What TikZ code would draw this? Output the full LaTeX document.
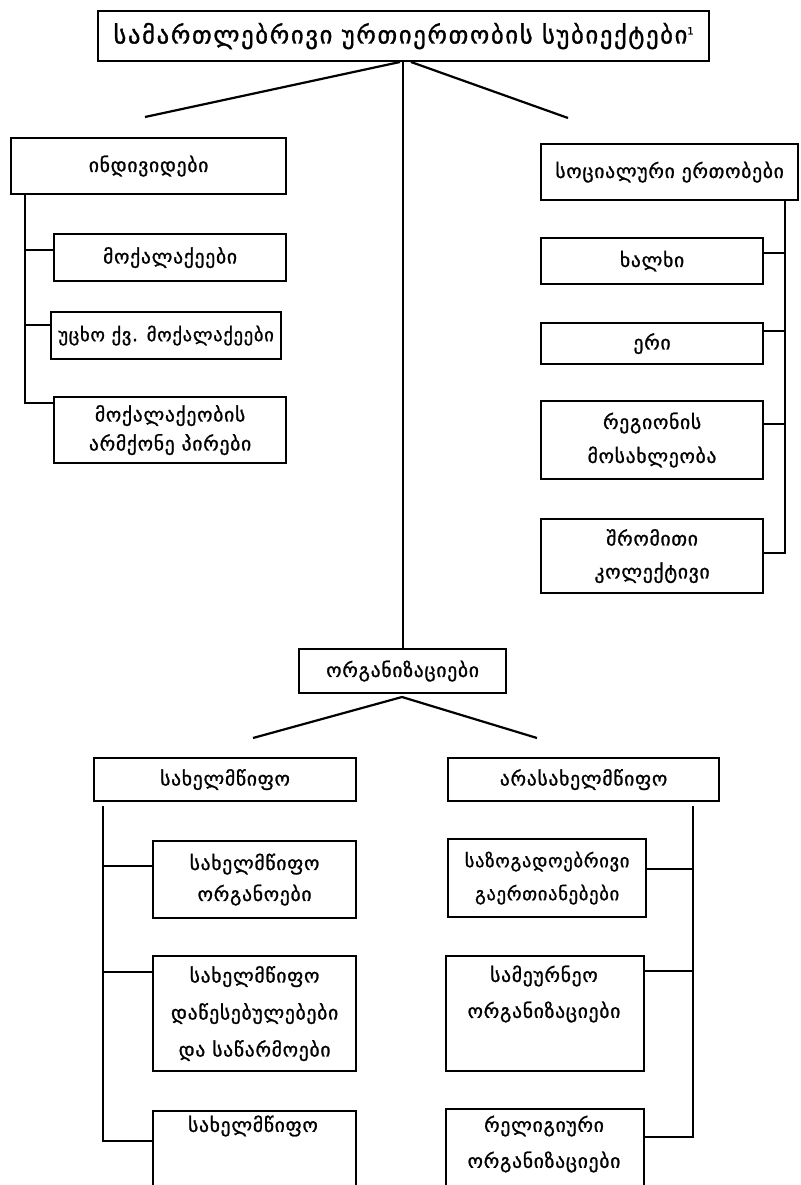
\documentclass[tikz,border=0pt]{standalone}
\usepackage{fontspec}
\newfontfamily\geo[LetterSpace=4,FakeBold=1.2]{DejaVu Sans}
\newfontfamily\geotitle[LetterSpace=7,FakeBold=1.3]{DejaVu Sans}
\begin{document}
\begin{tikzpicture}[x=1pt,y=-1pt,line width=2.2pt,
  box/.style={draw,rectangle,anchor=north west,inner sep=0pt,align=center,
    font=\geo\fontsize{19.5}{32}\selectfont},
  txt/.style={inner sep=0pt,align=center,font=\geo\fontsize{19.5}{36}\selectfont},
  link/.style={line width=2.2pt}]
\useasboundingbox (0,0) rectangle (800,1185);

% top level
\node[box,minimum width=611pt,minimum height=50pt,font=\geotitle\fontsize{24.5}{26}\selectfont] (root) at (97,10)
  {სამართლებრივი ურთიერთობის სუბიექტები\raisebox{9pt}{\fontsize{10}{10}\selectfont 1}};

% individuals
\node[box,minimum width=275pt,minimum height=56pt] (indiv) at (10,137) {ინდივიდები};
\node[box,minimum width=232pt,minimum height=47pt] (cit) at (53,233) {მოქალაქეები};
\node[box,minimum width=230pt,minimum height=47pt,font=\geo\fontsize{18.5}{32}\selectfont] (foreign) at (50,311) {უცხო ქვ. მოქალაქეები};
\node[box,minimum width=232pt,minimum height=66pt,font=\geo\fontsize{19.5}{29}\selectfont] (stateless) at (53,396) {მოქალაქეობის\\არმქონე პირები};

% social communities
\node[box,minimum width=257pt,minimum height=56pt] (social) at (540,143) {სოციალური ერთობები};
\node[box,minimum width=222pt,minimum height=46pt] (people) at (540,237) {ხალხი};
\node[box,minimum width=222pt,minimum height=41pt] (nation) at (540,322) {ერი};
\node[box,minimum width=222pt,minimum height=78pt,font=\geo\fontsize{19.5}{34}\selectfont] (region) at (540,400) {რეგიონის\\მოსახლეობა};
\node[box,minimum width=222pt,minimum height=74pt,font=\geo\fontsize{19.5}{33}\selectfont] (labour) at (540,518) {შრომითი\\კოლექტივი};

% organisations
\node[box,minimum width=207pt,minimum height=44pt] (org) at (298,648) {ორგანიზაციები};
\node[box,minimum width=262pt,minimum height=43pt] (state) at (93,757) {სახელმწიფო};
\node[box,minimum width=271pt,minimum height=43pt] (nonstate) at (447,757) {არასახელმწიფო};

\node[box,minimum width=203pt,minimum height=77pt,font=\geo\fontsize{19.5}{31}\selectfont] (organs) at (152,840) {სახელმწიფო\\ორგანოები};
\node[box,minimum width=203pt,minimum height=115pt,font=\geo\fontsize{19.5}{37}\selectfont] (inst) at (152,955) {სახელმწიფო\\დაწესებულებები\\და საწარმოები};
\node[box,minimum width=203pt,minimum height=90pt] (state3) at (152,1110) {};
\node[txt] (state3t) at (253,1126) {სახელმწიფო};

\node[box,minimum width=198pt,minimum height=78pt,font=\geo\fontsize{18.5}{33}\selectfont] (public) at (447,838) {საზოგადოებრივი\\გაერთიანებები};
\node[box,minimum width=198pt,minimum height=115pt] (econ) at (445,955) {};
\node[txt] (econt) at (544,994) {სამეურნეო\\ორგანიზაციები};
\node[box,minimum width=198pt,minimum height=90pt] (relig) at (445,1108) {};
\node[txt] (religt) at (544,1144) {რელიგიური\\ორგანიზაციები};

% branches from the root
\coordinate (rootL) at (400,62);
\coordinate (rootR) at (411,62);
\coordinate (endL) at (145,117);
\coordinate (endR) at (568,118);
\draw[link] (rootL) -- (endL);
\draw[link] (rootR) -- (endR);
\draw[link] (root.south -| org.north) -- (org.north);

% individuals trunk
\coordinate (iT) at (25,193);
\coordinate (iB) at (25,403);
\draw[link] (iT) -- (iB) -- (stateless.west |- iB);
\draw[link] (25,250) -- (cit.west |- 0,250);
\draw[link] (25,325) -- (foreign.west |- 0,325);

% social trunk
\coordinate (sT) at (785,199);
\coordinate (sB) at (785,553);
\draw[link] (sT) -- (sB) -- (labour.east |- sB);
\draw[link] (785,253) -- (people.east |- 0,253);
\draw[link] (785,331) -- (nation.east |- 0,331);
\draw[link] (785,424) -- (region.east |- 0,424);

% organisations split
\coordinate (oA) at (402,697);
\coordinate (oL) at (253,738);
\coordinate (oR) at (537,738);
\draw[link] (oL) -- (oA) -- (oR);

% state trunk
\coordinate (stT) at (103,806);
\coordinate (stB) at (103,1141);
\draw[link] (stT) -- (stB) -- (state3.west |- stB);
\draw[link] (103,866) -- (organs.west |- 0,866);
\draw[link] (103,972) -- (inst.west |- 0,972);

% non-state trunk
\coordinate (nsT) at (693,806);
\coordinate (nsB) at (693,1137);
\draw[link] (nsT) -- (nsB) -- (relig.east |- nsB);
\draw[link] (693,869) -- (public.east |- 0,869);
\draw[link] (693,971) -- (econ.east |- 0,971);
\end{tikzpicture}
\end{document}
